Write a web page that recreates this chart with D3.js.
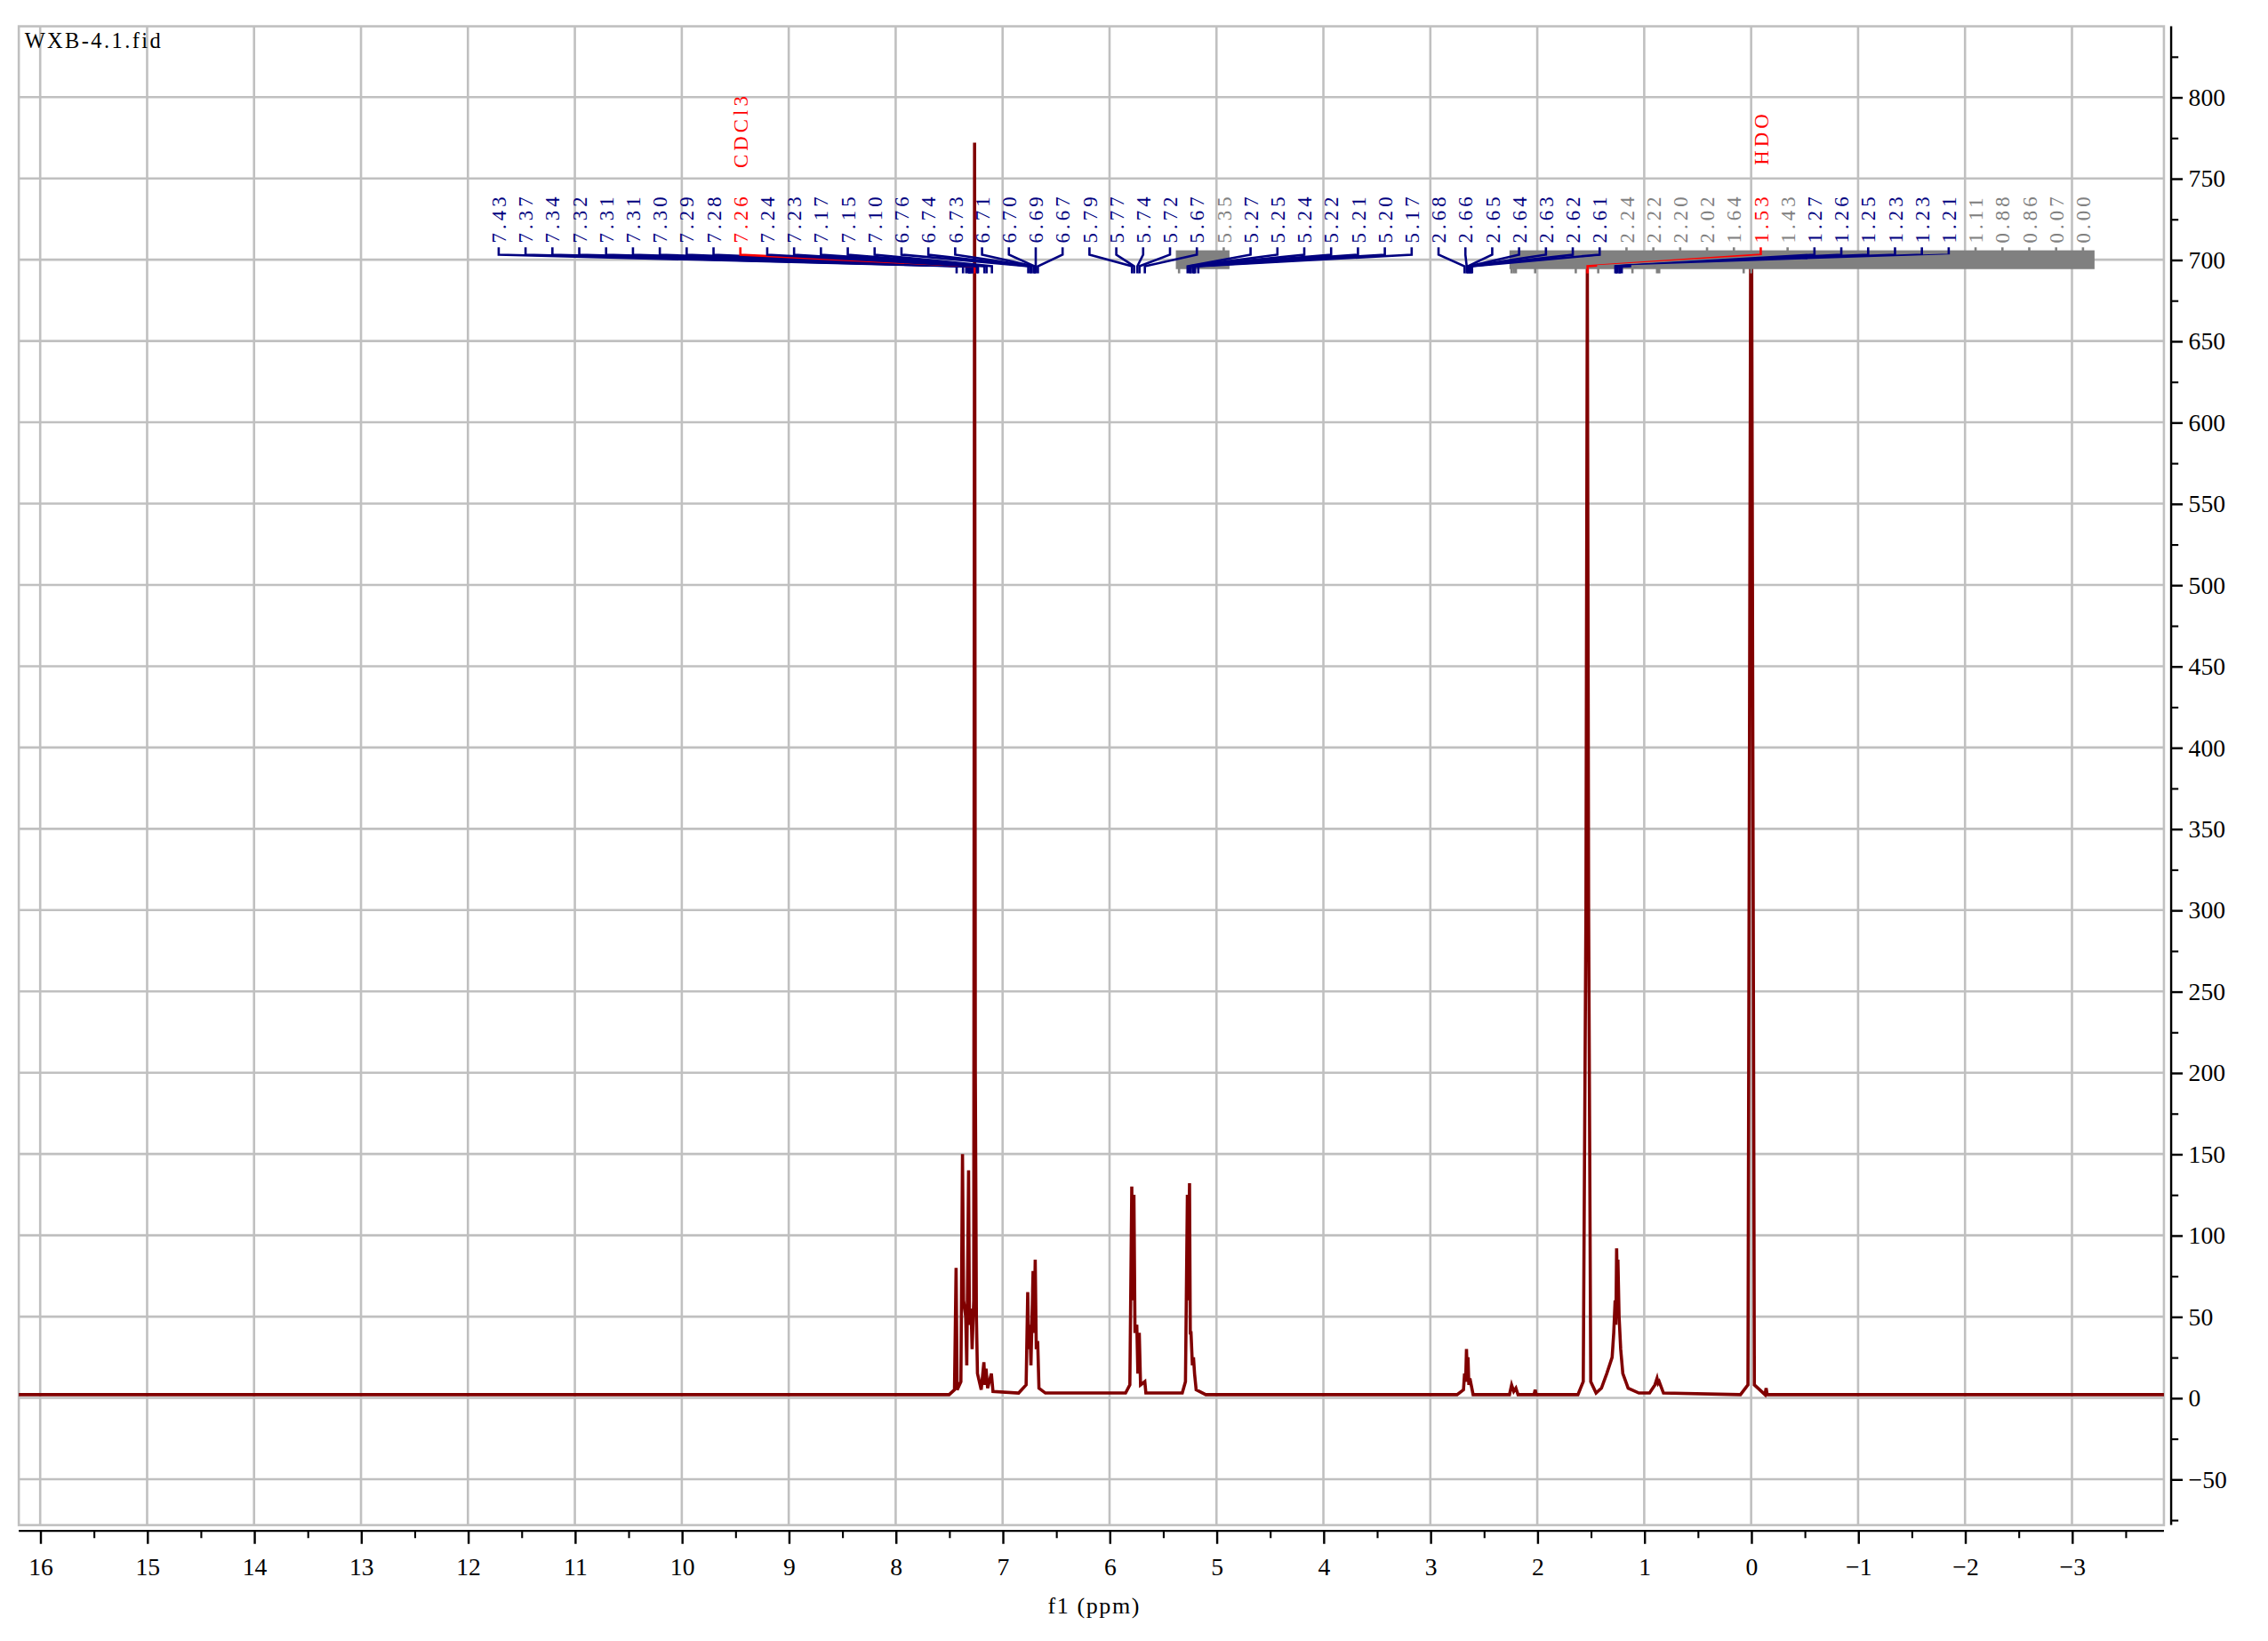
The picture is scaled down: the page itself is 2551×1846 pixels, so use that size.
<!DOCTYPE html>
<html><head><meta charset="utf-8">
<script src="https://cdn.jsdelivr.net/npm/d3@7"></script>
<style>body{margin:0;background:#fff}svg{display:block}text{font-family:"Liberation Serif","DejaVu Serif",serif}</style>
</head><body><svg id="c" width="2551" height="1846" viewBox="0 0 1569 1135"></svg>
<script>
const xTicks=[16,15,14,13,12,11,10,9,8,7,6,5,4,3,2,1,0,-1,-2,-3];
const yTicks=[800,750,700,650,600,550,500,450,400,350,300,250,200,150,100,50,0,-50];
const specPpm=[16.2,7.50,7.45,7.435,7.425,7.39,7.375,7.365,7.345,7.335,7.318,7.31,7.295,7.285,7.27,7.262,7.255,7.245,7.235,7.2,7.175,7.165,7.155,7.14,7.105,7.09,6.85,6.78,6.765,6.755,6.745,6.735,6.715,6.705,6.695,6.685,6.672,6.66,6.6,5.85,5.81,5.792,5.785,5.772,5.762,5.745,5.735,5.722,5.71,5.67,5.66,5.32,5.29,5.272,5.265,5.252,5.245,5.238,5.225,5.215,5.205,5.19,5.1,2.75,2.69,2.68,2.67,2.662,2.655,2.648,2.64,2.63,2.6,2.26,2.24,2.22,2.2,2.18,2.03,2.02,2.01,1.62,1.57,1.545,1.532,1.52,1.50,1.45,1.4,1.35,1.3,1.285,1.272,1.265,1.258,1.252,1.246,1.235,1.22,1.2,1.15,1.05,0.95,0.9,0.88,0.87,0.86,0.82,0.1,0.03,0.005,-0.005,-0.03,-0.13,-0.14,-0.15,-3.86];
const specInt=[2,2,5,80,5,10,150,60,50,20,140,45,55,30,60,772,200,50,15,5,22,8,18,6,15,4,3,8,65,30,45,20,78,40,85,30,35,6,3,3,8,130,60,125,40,45,15,40,8,10,3,3,10,125,60,132,40,40,20,25,15,5,2,2,5,15,10,30,15,25,8,12,2,2,8,4,6,2,2,5,2,2,10,300,695,300,10,3,6,15,25,40,60,45,92,70,85,50,30,15,6,3,3,8,12,9,10,3,2,8,700,700,8,2,6,2,2];
const labels=["7.43","7.37","7.34","7.32","7.31","7.31","7.30","7.29","7.28","7.26","7.24","7.23","7.17","7.15","7.10","6.76","6.74","6.73","6.71","6.70","6.69","6.67","5.79","5.77","5.74","5.72","5.67","5.35","5.27","5.25","5.24","5.22","5.21","5.20","5.17","2.68","2.66","2.65","2.64","2.63","2.62","2.61","2.24","2.22","2.20","2.02","1.64","1.53","1.43","1.27","1.26","1.25","1.23","1.23","1.21","1.11","0.88","0.86","0.07","0.00"];
const gray=new Set(["5.35","2.24","2.22","2.20","2.02","1.64","1.43","1.11","0.88","0.86","0.07","0.00"]);
const red=new Set(["7.26","1.53"]);
const solvent=[["7.26","CDCl3"],["1.53","HDO"]];

const svg=d3.select("#c");
const L=13,R=1497,T=18,B=1055;
const x=d3.scaleLinear().domain([16.2,-3.86]).range([L,R]);
const y=d3.scaleLinear().domain([0,800]).range([967,67]);
const gridC="#c0c0c0";
svg.append("g").selectAll("line").data(xTicks).join("line")
 .attr("x1",d=>x(d)).attr("x2",d=>x(d)).attr("y1",T).attr("y2",B).attr("stroke",gridC).attr("stroke-width",1.6);
svg.append("g").selectAll("line").data(yTicks).join("line")
 .attr("x1",L).attr("x2",R).attr("y1",d=>y(d)).attr("y2",d=>y(d)).attr("stroke",gridC).attr("stroke-width",1.6);
svg.append("rect").attr("x",L).attr("y",T).attr("width",R-L).attr("height",B-T).attr("fill","none").attr("stroke",gridC).attr("stroke-width",1.6);
svg.append("text").attr("x",17).attr("y",33).attr("font-size",15).attr("letter-spacing",1.5).attr("font-family","Liberation Mono,monospace").text("WXB-4.1.fid");

const xa=svg.append("g").attr("transform",`translate(0,${B+4})`);
xa.append("line").attr("x1",L).attr("x2",R).attr("stroke","#000").attr("stroke-width",1.5);
xa.append("g").call(d3.axisBottom(x).tickValues(xTicks).tickSize(9).tickFormat(d3.format("d")))
 .call(a=>{a.select(".domain").remove();a.selectAll("line").attr("stroke-width",1.5);a.selectAll("text").attr("font-size",17).attr("font-family","Liberation Serif").attr("dy","1.1em");});
xa.append("g").call(d3.axisBottom(x).tickValues(d3.range(15.5,-3.6,-1)).tickSize(5).tickFormat(""))
 .call(a=>{a.select(".domain").remove();a.selectAll("line").attr("stroke-width",1.3);});
svg.append("text").attr("x",757).attr("y",1116).attr("text-anchor","middle").attr("font-size",16).attr("letter-spacing",1).text("f1 (ppm)");

const ya=svg.append("g").attr("transform",`translate(1502,0)`);
ya.append("line").attr("y1",T).attr("y2",B).attr("stroke","#000").attr("stroke-width",1.5);
ya.append("g").call(d3.axisRight(y).tickValues(yTicks).tickSize(8))
 .call(a=>{a.select(".domain").remove();a.selectAll("line").attr("stroke-width",1.5);a.selectAll("text").attr("font-size",17).attr("font-family","Liberation Serif").attr("x",12);});
ya.append("g").call(d3.axisRight(y).tickValues(d3.range(-75,850,50)).tickSize(5).tickFormat(""))
 .call(a=>{a.select(".domain").remove();a.selectAll("line").attr("stroke-width",1.3);});

const pts=specPpm.map((p,i)=>[p,specInt[i]]);
svg.append("path").datum(pts).attr("fill","none").attr("stroke","#800000").attr("stroke-width",2.2)
 .attr("d",d3.line().x(d=>x(d[0])).y(d=>y(d[1])));

const lx=d3.scaleLinear().domain([0,labels.length-1]).range([345,1441]);
const col=s=>red.has(s)?"#ff0000":gray.has(s)?"#808080":"#000080";
const gb=svg.append("g");
gb.append("rect").attr("x",x(5.38)).attr("y",173).attr("width",lx(27)+4-x(5.38)).attr("height",13).attr("fill","#808080");
gb.append("rect").attr("x",x(2.26)).attr("y",173).attr("width",lx(59)+8-x(2.26)).attr("height",13).attr("fill","#808080");
const lg=svg.append("g");
labels.forEach((s,i)=>{
  const X=lx(i), P=x(+s), c=col(s);
  lg.append("path").attr("fill","none").attr("stroke",c).attr("stroke-width",1.6)
   .attr("d",`M${X},171V176L${P},184V189`);
  lg.append("text").attr("transform",`translate(${X+5},168) rotate(-90)`).attr("fill",c)
   .attr("font-size",14).attr("letter-spacing",2.5).attr("font-family","Liberation Mono,monospace").text(s);
});
solvent.forEach(([s,t])=>{
  const i=labels.indexOf(s);
  lg.append("text").attr("transform",`translate(${lx(i)+5},${s==="1.53"?114:116}) rotate(-90)`).attr("fill","#ff0000")
   .attr("font-size",14).attr("letter-spacing",2.5).attr("font-family","Liberation Mono,monospace").text(t);
});
</script></body></html>
